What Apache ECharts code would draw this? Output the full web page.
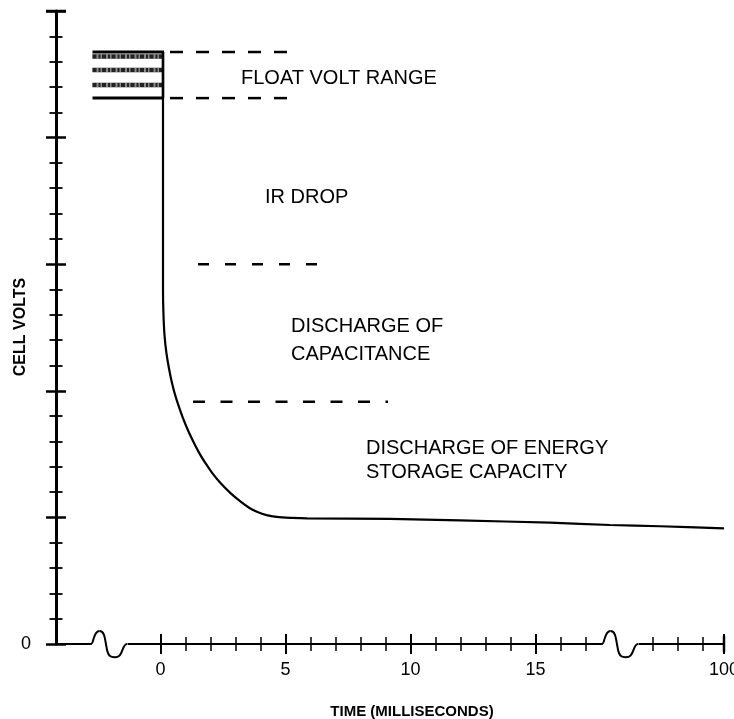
<!DOCTYPE html>
<html>
<head>
<meta charset="utf-8">
<script src="https://cdn.jsdelivr.net/npm/echarts@6/dist/echarts.min.js"></script>
<style>
html,body{margin:0;padding:0;background:#fff;overflow:hidden;}
#chart{width:734px;height:719px;}
</style>
</head>
<body>
<div id="chart"></div>
<script>
// ---------- data ----------
// discharge curve: x = time position on the (broken) axis, v = cell volts (arbitrary units, 0..25 ticks)
const curveX = [0.1, 0.1, 0.12, 0.16, 0.232, 0.336, 0.46, 0.62, 0.88, 1.112, 1.32, 1.552, 1.792, 2.072, 2.4, 2.8, 3.22, 3.56, 3.88, 4.24, 4.64, 5.26, 5.86, 9.18, 11.98, 15.58, 17.98, 19.98, 22.54];
const curveV = [23.38, 13.98, 12.99, 12.20, 11.53, 10.90, 10.31, 9.72, 8.97, 8.41, 7.98, 7.54, 7.15, 6.75, 6.36, 5.96, 5.61, 5.37, 5.21, 5.09, 5.02, 4.98, 4.96, 4.94, 4.88, 4.79, 4.70, 4.65, 4.57];

// float-voltage band (box left of t=0)
const floatBoxX = [-2.72, 0.1];
const floatBoxV = [23.38, 21.56];
const floatBandV = [23.2, 22.67, 22.08];

// dashed level markers
const dashStartX = [0.38, 0.38, 1.5, 1.3];
const dashEndX   = [5.18, 5.18, 6.5, 9.1];
const dashV      = [23.38, 21.56, 15.0, 9.57];

// axis break positions (start of squiggle, on the x axis)
const breakX = [-2.78, 17.66];

// ticks / labels
const xMajorTicks = [0, 5, 10, 15, 22.54];
const xTickLabels = ['0', '5', '10', '15', '100'];
const xMinorTicks = [1, 2, 3, 4, 6, 7, 8, 9, 11, 12, 13, 14, 16, 17, 19.7, 20.7, 21.7];
const yMajorTicks = [0, 5, 10, 15, 20, 25];
const yMinorTicks = [1, 2, 3, 4, 6, 7, 8, 9, 11, 12, 13, 14, 16, 17, 18, 19, 21, 22, 23, 24];
const yTickLabelValues = [0];
const yTickLabels = ['0'];

// annotation texts
const annotations = ['FLOAT VOLT RANGE', 'IR DROP', 'DISCHARGE OF\nCAPACITANCE', 'DISCHARGE OF ENERGY\nSTORAGE CAPACITY'];
const xAxisTitle = 'TIME (MILLISECONDS)';
const yAxisTitle = 'CELL VOLTS';

// ---------- chart ----------
const FONT = '"Liberation Sans", Arial, Helvetica, sans-serif';
const X_MIN = -4.18, X_MAX = 22.54;

function xAxisDef(ticks, len, inside, width, withLabels, withLine) {
  return {
    type: 'value', min: X_MIN, max: X_MAX, position: 'bottom', offset: 0,
    axisLine: { show: withLine, onZero: false, lineStyle: { color: '#000', width: 2 } },
    axisTick: { show: true, inside: inside, length: len, customValues: ticks, lineStyle: { color: '#000', width: width } },
    axisLabel: withLabels ? {
      show: true, customValues: xMajorTicks, margin: 17, fontSize: 18, color: '#000', fontFamily: FONT,
      formatter: function (v) { const i = xMajorTicks.findIndex(t => Math.abs(t - v) < 1e-6); return i >= 0 ? xTickLabels[i] : ''; }
    } : { show: false },
    splitLine: { show: false }
  };
}
function yAxisDef(ticks, len, inside, width, withLabels, withLine) {
  return {
    type: 'value', min: 0, max: 25, position: 'left', offset: 0,
    axisLine: { show: withLine, onZero: false, lineStyle: { color: '#000', width: 3 } },
    axisTick: { show: true, inside: inside, length: len, customValues: ticks, lineStyle: { color: '#000', width: width } },
    axisLabel: withLabels ? {
      show: true, customValues: yTickLabelValues, margin: 25, fontSize: 18, color: '#000', fontFamily: FONT,
      formatter: function (v) { const i = yTickLabelValues.findIndex(t => Math.abs(t - v) < 1e-6); return i >= 0 ? yTickLabels[i] : ''; }
    } : { show: false },
    splitLine: { show: false }
  };
}

const series = [];

// main discharge curve
series.push({
  type: 'line', xAxisIndex: 0, yAxisIndex: 0,
  data: curveX.map((x, i) => [x, curveV[i]]),
  showSymbol: false, smooth: 0.3, z: 5,
  lineStyle: { color: '#000', width: 2.2 }
});

// dashed level markers
const dashPatterns = [[13, 13], [13, 13], [11, 16], [12, 15.5]];
dashV.forEach((v, i) => {
  series.push({
    type: 'line', xAxisIndex: 0, yAxisIndex: 0,
    data: [[dashStartX[i], v], [dashEndX[i], v]],
    showSymbol: false, z: 4,
    lineStyle: { color: '#000', width: 2.5, type: dashPatterns[i] }
  });
});

// float voltage box
series.push({
  type: 'custom', xAxisIndex: 0, yAxisIndex: 0, clip: false, z: 6,
  data: [[floatBoxX[0], floatBoxV[0]]],
  renderItem: function (params, api) {
    const tl = api.coord([floatBoxX[0], floatBoxV[0]]);
    const tr = api.coord([floatBoxX[1], floatBoxV[0]]);
    const bl = api.coord([floatBoxX[0], floatBoxV[1]]);
    const br = api.coord([floatBoxX[1], floatBoxV[1]]);
    const children = [];
    floatBandV.forEach(v => {
      const a = api.coord([floatBoxX[0], v]);
      const b = api.coord([floatBoxX[1], v]);
      children.push({ type: 'line', shape: { x1: a[0], y1: a[1], x2: b[0], y2: b[1] },
        style: { stroke: '#8a8a8a', lineWidth: 5 } });
      children.push({ type: 'line', shape: { x1: a[0], y1: a[1], x2: b[0], y2: b[1] },
        style: { stroke: '#222', lineWidth: 4, lineDash: [4, 2, 2, 1.5] } });
    });
    children.push({ type: 'line', shape: { x1: tl[0], y1: tl[1], x2: tr[0] + 1, y2: tr[1] }, style: { stroke: '#000', lineWidth: 3 } });
    children.push({ type: 'line', shape: { x1: bl[0], y1: bl[1], x2: br[0] + 1, y2: br[1] }, style: { stroke: '#000', lineWidth: 3 } });
    children.push({ type: 'line', shape: { x1: tr[0], y1: tr[1], x2: br[0], y2: br[1] }, style: { stroke: '#000', lineWidth: 2.5 } });
    return { type: 'group', children: children };
  }
});

// axis break squiggles
series.push({
  type: 'custom', xAxisIndex: 0, yAxisIndex: 0, clip: false, z: 6,
  data: breakX.map(x => [x, 0]),
  renderItem: function (params, api) {
    const p = api.coord([api.value(0), 0]);
    const x0 = p[0], y0 = p[1];
    const st = { stroke: '#000', lineWidth: 2, fill: null };
    return {
      type: 'group',
      children: [
        { type: 'rect', shape: { x: x0 + 0.5, y: y0 - 3, width: 36, height: 6 }, style: { fill: '#fff' } },
        { type: 'bezierCurve', shape: { x1: x0, y1: y0, cpx1: x0 + 3, cpy1: y0, cpx2: x0 + 2, cpy2: y0 - 13, x2: x0 + 8.5, y2: y0 - 13 }, style: st },
        { type: 'bezierCurve', shape: { x1: x0 + 8.5, y1: y0 - 13, cpx1: x0 + 14, cpy1: y0 - 13, cpx2: x0 + 14, cpy2: y0 - 4, x2: x0 + 15.5, y2: y0 + 3 }, style: st },
        { type: 'bezierCurve', shape: { x1: x0 + 15.5, y1: y0 + 3, cpx1: x0 + 17, cpy1: y0 + 14, cpx2: x0 + 21, cpy2: y0 + 13.5, x2: x0 + 26, y2: y0 + 13 }, style: st },
        { type: 'bezierCurve', shape: { x1: x0 + 26, y1: y0 + 13, cpx1: x0 + 32, cpy1: y0 + 12.5, cpx2: x0 + 31, cpy2: y0, x2: x0 + 36, y2: y0 }, style: st }
      ]
    };
  }
});

// axis end caps
series.push({
  type: 'custom', xAxisIndex: 0, yAxisIndex: 0, clip: false, z: 6,
  data: [[X_MAX, 0]],
  renderItem: function (params, api) {
    const p = api.coord([X_MAX, 0]);
    const yl = api.coord([X_MIN, 25]);
    return {
      type: 'group', children: [
        { type: 'line', shape: { x1: p[0], y1: p[1] - 8, x2: p[0], y2: p[1] + 8 }, style: { stroke: '#000', lineWidth: 2.5 } },
        { type: 'line', shape: { x1: yl[0] - 10, y1: yl[1], x2: yl[0] + 10, y2: yl[1] }, style: { stroke: '#000', lineWidth: 2.5 } }
      ]
    };
  }
});

const textStyleBase = { fill: '#000', font: '20px ' + FONT, verticalAlign: 'middle', align: 'left' };
const ann = annotations.map(s => s.split('\n'));
const graphic = [
  { type: 'text', x: 241, y: 78, style: Object.assign({}, textStyleBase, { text: ann[0][0] }) },
  { type: 'text', x: 265, y: 197.5, style: Object.assign({}, textStyleBase, { text: ann[1][0] }) },
  { type: 'text', x: 291, y: 326.5, style: Object.assign({}, textStyleBase, { text: ann[2][0] }) },
  { type: 'text', x: 291, y: 354, style: Object.assign({}, textStyleBase, { text: ann[2][1] }) },
  { type: 'text', x: 366, y: 448.5, style: Object.assign({}, textStyleBase, { text: ann[3][0] }) },
  { type: 'text', x: 366, y: 472.5, style: Object.assign({}, textStyleBase, { text: ann[3][1] }) },
  { type: 'text', x: 20.5, y: 327, rotation: Math.PI / 2,
    style: { text: yAxisTitle, fill: '#000', font: 'bold 16px ' + FONT, align: 'center', verticalAlign: 'middle' } },
  { type: 'text', x: 412, y: 712,
    style: { text: xAxisTitle, fill: '#000', font: 'bold 15px ' + FONT, align: 'center', verticalAlign: 'middle' } }
];

const option = {
  animation: false,
  backgroundColor: '#fff',
  grid: { left: 56, right: 10, top: 11, bottom: 75, containLabel: false, outerBoundsMode: 'none' },
  xAxis: [
    xAxisDef(xMajorTicks, 10, false, 2, true, true),
    xAxisDef(xMajorTicks, 10, true, 2, false, false),
    xAxisDef(xMinorTicks, 7, false, 1.5, false, false),
    xAxisDef(xMinorTicks, 7, true, 1.5, false, false)
  ],
  yAxis: [
    yAxisDef(yMajorTicks, 10, false, 2.5, true, true),
    yAxisDef(yMajorTicks, 10, true, 2.5, false, false),
    yAxisDef(yMinorTicks, 6.5, false, 1.8, false, false),
    yAxisDef(yMinorTicks, 6.5, true, 1.8, false, false)
  ],
  series: series,
  graphic: graphic
};

const chart = echarts.init(document.getElementById('chart'), null, { renderer: 'canvas' });
chart.setOption(option);
</script>
</body>
</html>
